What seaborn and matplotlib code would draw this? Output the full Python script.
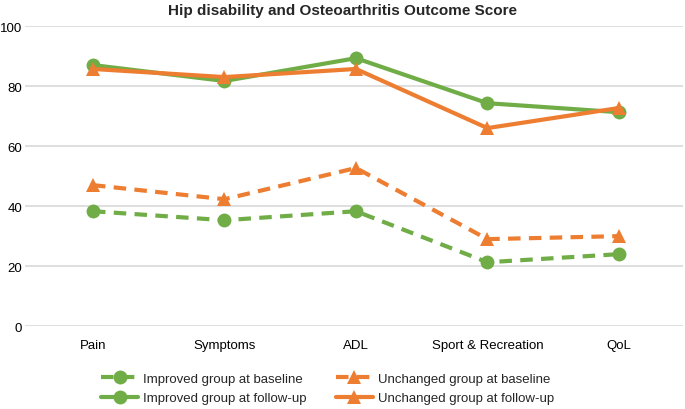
import matplotlib
matplotlib.use("Agg")
import matplotlib.pyplot as plt
import seaborn as sns
import pandas as pd

# Valeurs
categories = ["Pain", "Symptoms", "ADL", "Sport & Recreation", "QoL"]
improved_baseline = [38.3, 35.3, 38.3, 21.3, 24.0]
unchanged_baseline = [47.0, 42.3, 52.7, 29.0, 30.0]
improved_followup = [87.0, 81.7, 89.3, 74.3, 71.3]
unchanged_followup = [85.7, 83.0, 85.7, 66.0, 72.7]

green = "#70AD47"
orange = "#ED7D31"

sns.set_style("white")
plt.rcParams['font.family'] = ['Liberation Sans', 'DejaVu Sans']

fig, ax = plt.subplots(figsize=(6.85, 4.1), dpi=100)
fig.subplots_adjust(left=0.0365, right=0.997, top=0.934, bottom=0.202)

series = [
    ("Improved group at baseline", improved_baseline, green, "o", (3, 2)),
    ("Improved group at follow-up", improved_followup, green, "o", None),
    ("Unchanged group at baseline", unchanged_baseline, orange, "^", (3, 2)),
    ("Unchanged group at follow-up", unchanged_followup, orange, "^", None),
]

x = list(range(len(categories)))
for label, vals, col, mk, dash in series:
    df = pd.DataFrame({"x": x, "y": vals})
    sns.lineplot(data=df, x="x", y="y", ax=ax, color=col, marker=mk,
                 markersize=10, markeredgewidth=0, linewidth=3, label=label)
    line = ax.get_lines()[-1]
    if dash is not None:
        line.set_dashes(dash)

ax.set_xlim(-0.517, 4.487)
ax.set_ylim(0, 100)
ax.set_yticks([0, 20, 40, 60, 80, 100])
ax.set_xticks(x)
ax.set_xticklabels(categories)
ax.set_xlabel("")
ax.set_ylabel("")
ax.tick_params(axis="both", labelsize=9.5, length=0, colors="#000000")
ax.tick_params(axis="x", pad=9)
ax.tick_params(axis="y", pad=2)
ax.yaxis.grid(True, color="#D9D9D9", linewidth=1.2)
ax.set_axisbelow(True)
for s in ax.spines.values():
    s.set_visible(False)

fig.suptitle("Hip disability and Osteoarthritis Outcome Score",
             fontsize=11, fontweight="bold", x=0.5, y=0.99, va="top")

ax.legend(loc="upper center", bbox_to_anchor=(0.46, -0.115), ncol=2,
          frameon=False, fontsize=9.5, handlelength=2.8, columnspacing=2.2,
          labelspacing=0.55, handletextpad=0.4)

fig.savefig("out.png", dpi=100)
